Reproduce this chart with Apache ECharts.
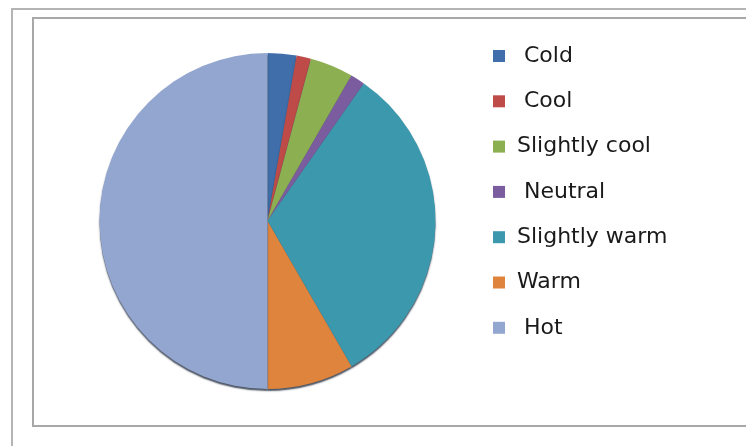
<!DOCTYPE html>
<html>
<head>
<meta charset="utf-8">
<script src="https://cdn.jsdelivr.net/npm/echarts@6/dist/echarts.min.js"></script>
<style>
html,body{margin:0;padding:0;background:#fff;}
#chart{width:746px;height:446px;}
</style>
</head>
<body>
<div id="chart"></div>
<script>
// Categories (legend labels as shown, some with a leading space)
const categories = [' Cold', ' Cool', 'Slightly cool', ' Neutral', 'Slightly warm', 'Warm', ' Hot'];
// Values
const values = [2, 1, 3, 1, 23, 6, 36];
const colors = ['#3F6EAA', '#BE4B48', '#8CAF52', '#7A5C9F', '#3C98AD', '#DF843C', '#93A6CF'];

const chart = echarts.init(document.getElementById('chart'), null, {renderer: 'canvas'});
const data = categories.map((c, i) => ({name: c, value: values[i], itemStyle: {color: colors[i]}}));

chart.setOption({
  animation: false,
  backgroundColor: '#ffffff',
  graphic: [
    {type: 'rect', shape: {x: 12, y: 9, width: 760, height: 460}, style: {fill: 'none', stroke: '#B4B4B4', lineWidth: 2}, silent: true},
    {type: 'rect', shape: {x: 33, y: 18, width: 740, height: 408}, style: {fill: 'none', stroke: '#A8A8A8', lineWidth: 2}, silent: true}
  ],
  legend: {
    orient: 'vertical',
    left: 493,
    top: 44,
    padding: 0,
    icon: 'rect',
    itemWidth: 12,
    itemHeight: 12,
    itemGap: 21.3,
    textStyle: {fontFamily: 'DejaVu Sans', fontSize: 22, color: '#1a1a1a', lineHeight: 24, padding: [0, 0, 0, 7]},
    data: categories
  },
  series: [{
    type: 'pie',
    center: [267.5, 221],
    radius: 168,
    startAngle: 90,
    clockwise: true,
    label: {show: false},
    labelLine: {show: false},
    emphasis: {disabled: true},
    itemStyle: {shadowColor: 'rgba(15,25,45,0.75)', shadowBlur: 1.5, shadowOffsetY: 2},
    data: data
  }]
});
</script>
</body>
</html>
